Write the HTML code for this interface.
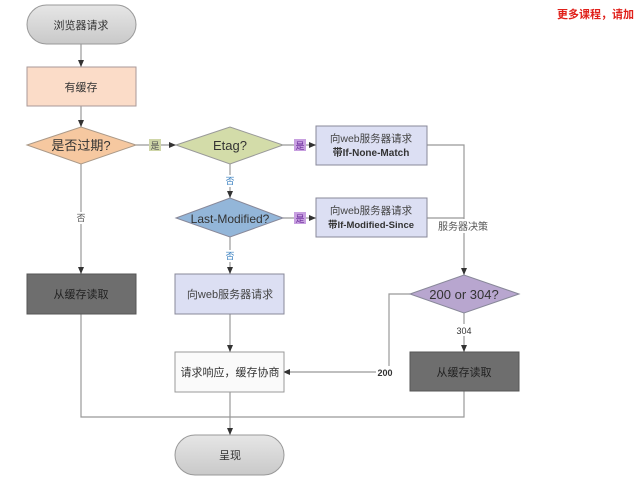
<!DOCTYPE html>
<html><head><meta charset="utf-8"><style>
html,body{margin:0;padding:0;background:#fff;width:636px;height:482px;overflow:hidden}
svg text{font-family:"Liberation Sans","Noto Sans CJK SC",sans-serif}
</style></head><body>
<svg width="636" height="482" viewBox="0 0 636 482" xmlns="http://www.w3.org/2000/svg">
<defs>
<marker id="a" markerWidth="8" markerHeight="8" refX="7" refY="4" orient="auto" markerUnits="userSpaceOnUse"><path d="M0,1 L7,4 L0,7 z" fill="#333"/></marker>
<linearGradient id="gs" x1="0" y1="0" x2="0" y2="1"><stop offset="0" stop-color="#e6e6e6"/><stop offset="1" stop-color="#c9c9c9"/></linearGradient>
</defs>
<g stroke="#999" stroke-width="1.2" fill="none">
<line x1="81" y1="44" x2="81" y2="67" marker-end="url(#a)"/>
<line x1="81" y1="106" x2="81" y2="127" marker-end="url(#a)"/>
<line x1="136" y1="145" x2="176" y2="145" marker-end="url(#a)"/>
<line x1="283" y1="145" x2="316" y2="145" marker-end="url(#a)"/>
<line x1="230" y1="164" x2="230" y2="198" marker-end="url(#a)"/>
<line x1="283" y1="218" x2="316" y2="218" marker-end="url(#a)"/>
<line x1="230" y1="237" x2="230" y2="274" marker-end="url(#a)"/>
<line x1="81" y1="164" x2="81" y2="274" marker-end="url(#a)"/>
<polyline points="427,145 464,145 464,275" marker-end="url(#a)"/>
<line x1="427" y1="218" x2="464" y2="218"/>
<line x1="464" y1="313" x2="464" y2="352" marker-end="url(#a)"/>
<polyline points="410,294 389,294 389,372 283,372" marker-end="url(#a)"/>
<line x1="230" y1="314" x2="230" y2="352" marker-end="url(#a)"/>
<polyline points="81,314 81,417 464,417 464,391"/>
<line x1="230" y1="392" x2="230" y2="435" marker-end="url(#a)"/>
</g>
<!-- nodes -->
<rect x="27" y="5" width="109" height="39" rx="19.5" fill="url(#gs)" stroke="#999"/>
<text x="81" y="29" font-size="11" text-anchor="middle" fill="#333">浏览器请求</text>
<rect x="27" y="67" width="109" height="39" fill="#fbdcc8" stroke="#a99"/>
<text x="81" y="91" font-size="11" text-anchor="middle" fill="#333">有缓存</text>
<polygon points="27,145 81,127 136,145 81,164" fill="#f6c8a0" stroke="#a98"/>
<text x="81" y="150" font-size="13" text-anchor="middle" fill="#333">是否过期?</text>
<polygon points="176,145 230,127 283,145 230,164" fill="#d3dca9" stroke="#999"/>
<text x="230" y="150" font-size="13" text-anchor="middle" fill="#333">Etag?</text>
<rect x="316" y="126" width="111" height="39" fill="#dcdff3" stroke="#889"/>
<text x="371" y="142" font-size="10.5" text-anchor="middle" fill="#444">向web服务器请求</text>
<text x="371" y="156" font-size="10" font-weight="bold" text-anchor="middle" fill="#333">带If-None-Match</text>
<polygon points="176,218 230,198 283,218 230,237" fill="#93b6d9" stroke="#889"/>
<text x="230" y="223" font-size="12" text-anchor="middle" fill="#333">Last-Modified?</text>
<rect x="316" y="198" width="111" height="39" fill="#dcdff3" stroke="#889"/>
<text x="371" y="214" font-size="10.5" text-anchor="middle" fill="#444">向web服务器请求</text>
<text x="371" y="228" font-size="9.5" font-weight="bold" text-anchor="middle" fill="#333">带If-Modified-Since</text>
<rect x="27" y="274" width="109" height="40" fill="#6e6e6e" stroke="#555"/>
<text x="81" y="298" font-size="11" text-anchor="middle" fill="#222">从缓存读取</text>
<rect x="175" y="274" width="109" height="40" fill="#dcdff3" stroke="#889"/>
<text x="230" y="298" font-size="11" text-anchor="middle" fill="#444">向web服务器请求</text>
<polygon points="410,294 464,275 519,294 464,313" fill="#b8a6cf" stroke="#889"/>
<text x="464" y="299" font-size="13" text-anchor="middle" fill="#333">200 or 304?</text>
<rect x="410" y="352" width="109" height="39" fill="#6e6e6e" stroke="#555"/>
<text x="464" y="376" font-size="11" text-anchor="middle" fill="#222">从缓存读取</text>
<rect x="175" y="352" width="109" height="40" fill="#fafafa" stroke="#999"/>
<text x="230" y="376" font-size="11" text-anchor="middle" fill="#333">请求响应，缓存协商</text>
<rect x="175" y="435" width="109" height="40" rx="20" fill="url(#gs)" stroke="#999"/>
<text x="230" y="459" font-size="11" text-anchor="middle" fill="#333">呈现</text>
<!-- labels -->
<rect x="149" y="139" width="12" height="12" fill="#cfd6a8"/>
<text x="155" y="149" font-size="9" text-anchor="middle" fill="#555">是</text>
<rect x="294" y="139" width="12" height="12" fill="#c8a0e0"/>
<text x="300" y="149" font-size="9" text-anchor="middle" fill="#6a2a9a">是</text>
<rect x="294" y="212" width="12" height="12" fill="#c8a0e0"/>
<text x="300" y="222" font-size="9" text-anchor="middle" fill="#6a2a9a">是</text>
<rect x="224" y="175" width="12" height="12" fill="#fff"/>
<text x="230" y="184" font-size="9" text-anchor="middle" fill="#3a80c0">否</text>
<rect x="224" y="250" width="12" height="12" fill="#fff"/>
<text x="230" y="259" font-size="9" text-anchor="middle" fill="#3a80c0">否</text>
<rect x="75" y="212" width="12" height="12" fill="#fff"/>
<text x="81" y="221" font-size="9" text-anchor="middle" fill="#555">否</text>
<rect x="435" y="219" width="56" height="14" fill="#fff"/>
<text x="463" y="230" font-size="10" text-anchor="middle" fill="#555">服务器决策</text>
<rect x="454" y="324" width="20" height="12" fill="#fff"/>
<text x="464" y="334" font-size="9" text-anchor="middle" fill="#333">304</text>
<rect x="376" y="366" width="20" height="12" fill="#fff"/>
<text x="385" y="376" font-size="9" font-weight="bold" text-anchor="middle" fill="#333">200</text>
<text x="557" y="18" font-size="11" fill="#e0201a" font-weight="bold">更多课程，请加</text>
</svg>
</body></html>
